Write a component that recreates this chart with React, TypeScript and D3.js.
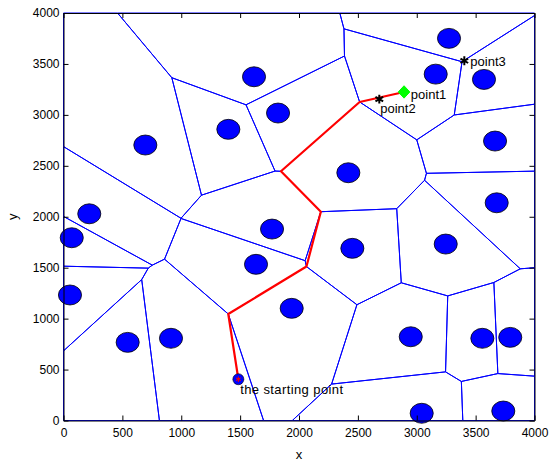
import * as d3 from 'd3';
import { useEffect, useRef } from 'react';

// obstacle centres (also the Voronoi sites)
const obstacleX = [1618, 3274, 3161, 3571, 1400, 1822, 695, 3665, 2419, 219, 70, 3679, 1771, 1635, 2453, 3246, 55, 1938, 913, 545, 2949, 3557, 3794, 3042, 3735];
const obstacleY = [3374, 3751, 3400, 3348, 2858, 3018, 2704, 2743, 2432, 2029, 1794, 2137, 1879, 1533, 1690, 1732, 1232, 1101, 807, 767, 822, 807, 816, 71, 93];
const obstacleR = 98;

// planned route, start -> voronoi vertices -> point1
const routeX = [1485, 1400, 2062, 2164, 1858, 2518, 2892];
const routeY = [405, 1052, 1521, 2049, 2442, 3138, 3225];

const startX = 1485;
const startY = 405;
const startLabel = 'the starting point';

const pointNames = ['point1', 'point2', 'point3'];
const pointX = [2892, 2682, 3404];
const pointY = [3225, 3155, 3531];
const pointLabelX = [2950, 2690, 3455];
const pointLabelY = [3200, 3060, 3520];

const tickValues = [0, 500, 1000, 1500, 2000, 2500, 3000, 3500, 4000];

const W = 555;
const H = 464;
const margin = { top: 13, right: 20.5, bottom: 43.5, left: 63.5 };
const font = '"Liberation Sans", Arial, Helvetica, sans-serif';

export default function App() {
    const ref = useRef<SVGSVGElement>(null);

    useEffect(() => {
        const svg = d3.select(ref.current);
        svg.selectAll('*').remove();

        const x = d3.scaleLinear().domain([0, 4000]).range([margin.left, W - margin.right]);
        const y = d3.scaleLinear().domain([0, 4000]).range([H - margin.bottom, margin.top]);

        const sites: [number, number][] = obstacleX.map((v, i) => [v, obstacleY[i]]);
        const delaunay = d3.Delaunay.from(sites);
        const voronoi = delaunay.voronoi([0, 0, 4000, 4000]);

        const line = d3.line<[number, number]>().x(d => x(d[0])).y(d => y(d[1]));

        // voronoi edges
        const g = svg.append('g');
        sites.forEach((_, i) => {
            const poly = voronoi.cellPolygon(i);
            if (!poly) return;
            g.append('path')
                .attr('d', line(poly as [number, number][]))
                .attr('fill', 'none')
                .attr('stroke', '#0000ff')
                .attr('stroke-width', 1);
        });

        // obstacles
        svg.append('g')
            .selectAll('ellipse')
            .data(sites)
            .join('ellipse')
            .attr('cx', d => x(d[0]))
            .attr('cy', d => y(d[1]))
            .attr('rx', x(obstacleR) - x(0))
            .attr('ry', y(0) - y(obstacleR))
            .attr('fill', '#0000ff')
            .attr('stroke', '#000')
            .attr('stroke-width', 0.8);

        // snap the inner route points onto voronoi vertices
        const cc = voronoi.circumcenters;
        const route: [number, number][] = routeX.map((rx, i) => {
            const ry = routeY[i];
            if (i === 0 || i === routeX.length - 1) return [rx, ry];
            let best: [number, number] = [rx, ry];
            let bd = 90;
            for (let k = 0; k < cc.length; k += 2) {
                const d = Math.hypot(cc[k] - rx, cc[k + 1] - ry);
                if (d < bd) { bd = d; best = [cc[k], cc[k + 1]]; }
            }
            return best;
        });

        svg.append('path')
            .attr('d', line(route))
            .attr('fill', 'none')
            .attr('stroke', '#ff0000')
            .attr('stroke-width', 2.2)
            .attr('stroke-linejoin', 'round');

        // start marker
        svg.append('circle')
            .attr('cx', x(startX))
            .attr('cy', y(startY))
            .attr('r', 5.5)
            .attr('fill', '#0000ff')
            .attr('stroke', '#000')
            .attr('stroke-width', 0.6);
        svg.append('path')
            .attr('transform', `translate(${x(startX)},${y(startY)})`)
            .attr('d', d3.symbol(d3.symbolAsterisk, 20)())
            .attr('fill', 'none')
            .attr('stroke', '#ff0000')
            .attr('stroke-width', 1);

        // point markers
        const px1 = x(pointX[0]);
        const py1 = y(pointY[0]);
        svg.append('path')
            .attr('d', `M${px1},${py1 - 6.2}L${px1 + 5.8},${py1}L${px1},${py1 + 6.2}L${px1 - 5.8},${py1}Z`)
            .attr('fill', '#00ff00')
            .attr('stroke', '#00ff00');
        [1, 2].forEach(i => {
            svg.append('path')
                .attr('transform', `translate(${x(pointX[i])},${y(pointY[i])})`)
                .attr('d', d3.symbol(d3.symbolAsterisk, 55)())
                .attr('fill', 'none')
                .attr('stroke', '#000')
                .attr('stroke-width', 2);
        });

        // texts
        const texts = svg.append('g').attr('font-family', font).attr('font-size', 13).attr('fill', '#000');
        pointNames.forEach((name, i) => {
            texts.append('text')
                .attr('x', x(pointLabelX[i]))
                .attr('y', y(pointLabelY[i]))
                .attr('dy', '0.35em')
                .text(name);
        });
        texts.append('text')
            .attr('x', x(1500))
            .attr('y', y(300))
            .attr('dy', '0.35em')
            .attr('letter-spacing', 0.4)
            .text(startLabel);

        // axes box with inward ticks
        const styleAxis = (a: d3.Selection<SVGGElement, unknown, null, undefined>) => {
            a.attr('font-family', font).attr('font-size', 12);
            a.select('.domain').attr('stroke', '#000');
            a.selectAll('.tick line').attr('stroke', '#000');
            a.selectAll('.tick text').attr('fill', '#000');
        };
        svg.append('g')
            .attr('transform', `translate(0,${H - margin.bottom})`)
            .call(d3.axisBottom(x).tickValues(tickValues).tickSizeInner(-5).tickSizeOuter(0).tickPadding(8).tickFormat(d3.format('d')))
            .call(styleAxis);
        svg.append('g')
            .attr('transform', `translate(0,${margin.top})`)
            .call(d3.axisTop(x).tickValues(tickValues).tickSizeInner(-5).tickSizeOuter(0).tickFormat(() => ''))
            .call(styleAxis);
        svg.append('g')
            .attr('transform', `translate(${margin.left},0)`)
            .call(d3.axisLeft(y).tickValues(tickValues).tickSizeInner(-5).tickSizeOuter(0).tickPadding(4).tickFormat(d3.format('d')))
            .call(styleAxis);
        svg.append('g')
            .attr('transform', `translate(${W - margin.right},0)`)
            .call(d3.axisRight(y).tickValues(tickValues).tickSizeInner(-5).tickSizeOuter(0).tickFormat(() => ''))
            .call(styleAxis);

        svg.append('text')
            .attr('x', x(2000))
            .attr('y', 459)
            .attr('text-anchor', 'middle')
            .attr('font-family', font)
            .attr('font-size', 13)
            .text('x');
        svg.append('text')
            .attr('transform', `translate(17,${y(2000)}) rotate(-90)`)
            .attr('text-anchor', 'middle')
            .attr('font-family', font)
            .attr('font-size', 13)
            .text('y');
    }, []);

    return (
        <div style={{ position: 'absolute', left: 0, top: 0 }}>
            <svg ref={ref} width={W} height={H} style={{ display: 'block', background: '#fff' }} />
        </div>
    );
}
